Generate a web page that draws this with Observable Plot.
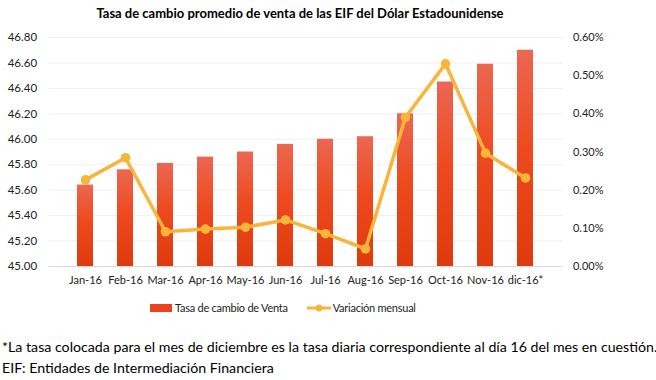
<!DOCTYPE html>
<html><head><meta charset="utf-8">
<script src="https://cdn.jsdelivr.net/npm/d3@7"></script>
<script src="https://cdn.jsdelivr.net/npm/@observablehq/plot@0.6"></script>
<style>
body{margin:0;background:#fff;font-family:Lato,"Open Sans",sans-serif;}
#wrap{position:relative;width:656px;height:380px;overflow:hidden;}
#title{position:absolute;left:0;width:600px;top:5px;text-align:center;font-weight:bold;font-size:13px;color:#000;}
#legend{position:absolute;top:301px;left:150px;font-size:11px;letter-spacing:-0.25px;color:#222;display:flex;align-items:center;}
#foot{position:absolute;left:2px;top:336px;font-size:14.2px;letter-spacing:0px;color:#000;line-height:21px;white-space:nowrap;}
svg{position:absolute;left:0;top:0;}
</style></head>
<body><div id="wrap">
<div id="chart"></div>
<div id="title">Tasa de cambio promedio de venta de las EIF del Dólar Estadounidense</div>
<div id="legend">
 <span style="display:inline-block;width:22px;height:8px;background:#e8451e;margin-right:3px"></span><span>Tasa de cambio de Venta</span>
 <svg width="24" height="10" style="position:static;margin-left:19px;margin-right:2px"><line x1="0" y1="5" x2="24" y2="5" stroke="#f9b43a" stroke-width="3"/><circle cx="12" cy="5" r="3.5" fill="#f9b43a"/></svg><span>Variación mensual</span>
</div>
<div id="foot">*La tasa colocada para el mes de diciembre es la tasa diaria correspondiente al día 16 del mes en cuestión.<br>EIF: Entidades de Intermediación Financiera</div>
</div>
<script>
const months = ["Jan-16","Feb-16","Mar-16","Apr-16","May-16","Jun-16","Jul-16","Aug-16","Sep-16","Oct-16","Nov-16","dic-16*"];
const tasa = [45.64, 45.76, 45.81, 45.86, 45.90, 45.96, 46.00, 46.02, 46.20, 46.45, 46.59, 46.70];
const variacion = [0.227, 0.285, 0.091, 0.098, 0.103, 0.122, 0.086, 0.046, 0.391, 0.531, 0.297, 0.232];
const leftTicks = [45.0,45.2,45.4,45.6,45.8,46.0,46.2,46.4,46.6,46.8];
const rightTicks = [0,0.1,0.2,0.3,0.4,0.5,0.6];

const yMin = 45, yMax = 46.8, pMax = 0.6;
const toLeft = p => yMin + p * (yMax - yMin) / pMax;
const data = months.map((m,i) => ({m, tasa: tasa[i], v: variacion[i], vy: toLeft(variacion[i])}));

const chart = Plot.plot({
  width: 656, height: 290,
  marginTop: 37, marginBottom: 24, marginLeft: 48.6, marginRight: 93.6,
  style: {fontFamily: "Lato, 'Open Sans', sans-serif", fontSize: "11px", color: "#222", overflow: "visible"},
  x: {domain: months, padding: 0.6, label: null},
  y: {domain: [yMin, yMax], label: null},
  marks: [
    Plot.ruleY(leftTicks.slice(1), {stroke: "#f0f0f0", strokeWidth: 1}),
    Plot.ruleY([yMin], {stroke: "#d9d9d9"}),
    Plot.barY(data, {x: "m", y1: yMin, y2: "tasa", fill: "url(#barGrad)"}),
    Plot.line(data, {x: "m", y: "vy", stroke: "#f9b43a", strokeWidth: 3.5, style: "filter:url(#sh)"}),
    Plot.dot(data, {x: "m", y: "vy", r: 4.8, fill: "#f9b43a", stroke: "none"}),
    Plot.axisX({tickSize: 0, tickPadding: 10, fontSize: 11}),
    Plot.axisY({ticks: leftTicks, tickSize: 0, tickPadding: 12, tickFormat: d => d.toFixed(2), fontSize: 11.5}),
    Plot.axisY({anchor: "right", ticks: rightTicks.map(toLeft), tickSize: 0, tickPadding: 10,
      tickFormat: d => (((d - yMin) * pMax / (yMax - yMin))).toFixed(2) + "%", fontSize: 11})
  ]
});
const svg = d3.select(chart);
const defs = svg.insert("defs", ":first-child");
const g = defs.append("linearGradient").attr("id","barGrad").attr("x1",0).attr("y1",0).attr("x2",0).attr("y2",1);
g.append("stop").attr("offset","0%").attr("stop-color","#ec6752");
g.append("stop").attr("offset","45%").attr("stop-color","#ee4a1f");
g.append("stop").attr("offset","100%").attr("stop-color","#de3a0d");
const f = defs.append("filter").attr("id","sh").attr("x","-10%").attr("y","-10%").attr("width","120%").attr("height","130%");
f.append("feDropShadow").attr("dx",1).attr("dy",1.5).attr("stdDeviation",1.2).attr("flood-color","#000").attr("flood-opacity",0.3);
document.getElementById("chart").appendChild(chart);
</script>
</body></html>
